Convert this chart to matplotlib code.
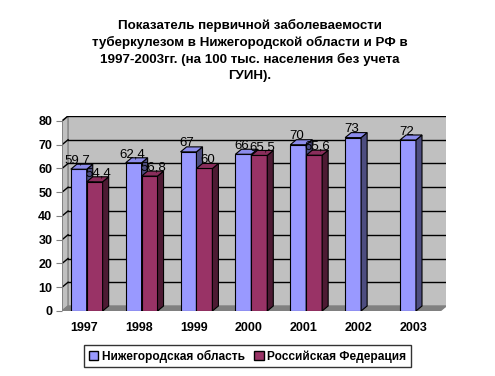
import numpy as np
import matplotlib
matplotlib.use('Agg')
import matplotlib.pyplot as plt
from matplotlib.patches import Patch

plt.rcParams['font.family'] = ['Liberation Sans', 'DejaVu Sans']

# Data
years = ['1997', '1998', '1999', '2000', '2001', '2002', '2003']
nizhny = [59.7, 62.4, 67, 66, 70, 73, 72]
russia = [54.4, 56.8, 60, 65.5, 65.6, None, None]
series_names = ['Нижегородская область', 'Российская Федерация']
title = ('Показатель первичной заболеваемости\nтуберкулезом в Нижегородской области и РФ в\n'
         '1997-2003гг. (на 100 тыс. населения без учета\nГУИН).')

# Styles
front = ['#9999FF', '#993366']
side = ['#4D4D80', '#4D1A33']
top = ['#8C8CEB', '#8A2E5C']
dx, dy = 0.11, 2.1   # depth offset (x units, y units)
w = 0.29
shift = 0.05
x0, x1 = -0.4, 6.6

fig = plt.figure(figsize=(4.95, 3.76), dpi=100)
ax = fig.add_axes([0.1253, 0.1729, 0.776, 0.5186])
ax.set_xlim(x0, x1)
ax.set_ylim(0, 80 + dy)
for s in ax.spines.values():
    s.set_visible(False)

# walls and floor
ax.fill([x0 + dx, x1, x1, x0 + dx], [dy, dy, 80 + dy, 80 + dy], color='#C0C0C0', zorder=0)
ax.fill([x0, x0 + dx, x0 + dx, x0], [0, dy, 80 + dy, 80], facecolor='#C0C0C0',
        edgecolor='#808080', lw=1, zorder=0.5)
ax.fill([x0, x1 - dx, x1, x0 + dx], [0, 0, dy, dy], facecolor='#808080',
        edgecolor='#808080', zorder=0.5)

# gridlines on back + left walls
for g in range(10, 90, 10):
    ax.plot([x0 + dx, x1], [g + dy, g + dy], color='black', lw=1, zorder=1)
    ax.plot([x0, x0 + dx], [g, g + dy], color='black', lw=1, zorder=1)
ax.plot([x0, x0], [0, 80], color='#808080', lw=1.2, zorder=1)

def bar3d(xc, h, k):
    xl, xr = xc - w / 2, xc + w / 2
    ax.bar(xc, h, width=w, color=front[k], edgecolor='black', lw=0.8, zorder=3)
    ax.fill([xr, xr + dx, xr + dx, xr], [0, dy, h + dy, h],
            facecolor=side[k], edgecolor='black', lw=0.8, zorder=3)
    ax.fill([xl, xr, xr + dx, xl + dx], [h, h, h + dy, h + dy],
            facecolor=top[k], edgecolor='black', lw=0.8, zorder=3)

def fmt(v):
    return ('%g' % v).replace('.', ',')

nudge = [-0.03, 0.06]
for i in range(len(years)):
    for k, vals in enumerate([nizhny, russia]):
        v = vals[i]
        if v is None:
            continue
        xc = i - w / 2 + k * w + shift
        bar3d(xc, v, k)
        ax.text(xc + nudge[k], v + 1.0, fmt(v), ha='center', va='bottom', fontsize=9.5,
                color='black', zorder=5)

ax.set_xticks(range(len(years)))
ax.set_xticklabels(years, fontsize=9, fontweight='bold')
ax.tick_params(axis='x', length=0, pad=8)
ax.set_yticks(range(0, 90, 10))
ax.set_yticklabels([str(t) for t in range(0, 90, 10)], fontsize=9, fontweight='bold')
ax.tick_params(axis='y', length=4, color='#808080', pad=3)

fig.text(0.505, 0.95, title, ha='center', va='top', fontsize=9.6,
         fontweight='bold', linespacing=1.4)

handles = [Patch(facecolor=front[k], edgecolor='black', label=series_names[k]) for k in range(2)]
leg = fig.legend(handles=handles, loc='center', bbox_to_anchor=(0.5, 0.053), ncol=2,
                 frameon=True, fancybox=False, edgecolor='black',
                 handlelength=0.8, handleheight=0.8, handletextpad=0.3,
                 columnspacing=0.8, borderpad=0.35, prop={'weight': 'bold', 'size': 8.6})
leg.get_frame().set_linewidth(1)

fig.savefig('out.png', dpi=100)
